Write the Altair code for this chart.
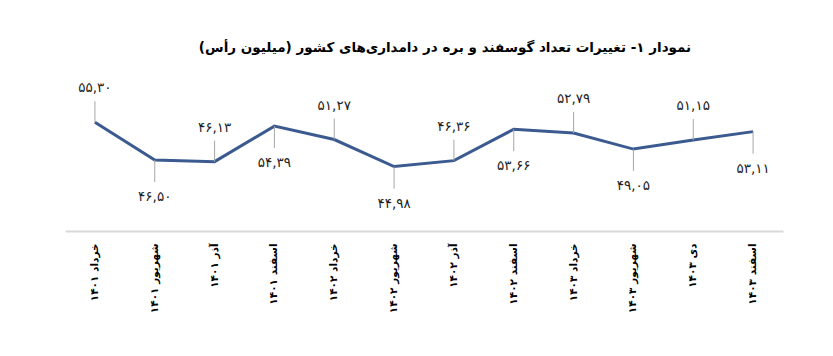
import altair as alt
import pandas as pd

categories = [
    "خرداد ۱۴۰۱", "شهریور ۱۴۰۱", "آذر ۱۴۰۱", "اسفند ۱۴۰۱",
    "خرداد ۱۴۰۲", "شهریور ۱۴۰۲", "آذر ۱۴۰۲", "اسفند ۱۴۰۲",
    "خرداد ۱۴۰۳", "شهریور ۱۴۰۳", "دی ۱۴۰۳", "اسفند ۱۴۰۳",
]
values = [55.30, 46.50, 46.13, 54.39, 51.27, 44.98, 46.36, 53.66, 52.79, 49.05, 51.15, 53.11]
title_text = "نمودار ۱- تغییرات تعداد گوسفند و بره در دامداری\u200cهای کشور (میلیون رأس)"

FA = str.maketrans("0123456789", "۰۱۲۳۴۵۶۷۸۹")


def fa_num(v):
    return ("%.2f" % v).replace(".", ",").translate(FA)


df = pd.DataFrame({
    "cat": categories,
    "value": values,
    "label": [fa_num(v) for v in values],
    "pos": ["above" if i % 2 == 0 else "below" for i in range(len(values))],
})

FONT = "DejaVu Sans"
x_enc = alt.X("cat:N", sort=categories, title=None,
              axis=alt.Axis(labelAngle=-90, labelFont=FONT, labelFontSize=10.5,
                            labelFontWeight="bold", labelColor="#000000",
                            labelPadding=12, ticks=False, domainColor="#D9D9D9",
                            domainWidth=2, grid=False, labelLimit=200))
y_scale = alt.Scale(domain=[30, 60], nice=False, zero=False)
y_enc = alt.Y("value:Q", scale=y_scale, axis=None)

base = alt.Chart(df).encode(x=x_enc)

line = base.mark_line(color="#3B5A8F", strokeWidth=3).encode(y=y_enc)

above = alt.datum.pos == "above"
below = alt.datum.pos == "below"

rule_up = base.transform_filter(above).mark_rule(
    color="#A6A6A6", strokeWidth=1, y2Offset=-21
).encode(y=y_enc, y2="value:Q")
rule_dn = base.transform_filter(below).mark_rule(
    color="#A6A6A6", strokeWidth=1, y2Offset=22
).encode(y=y_enc, y2="value:Q")

text_up = base.transform_filter(above).mark_text(
    dy=-34, baseline="middle", font=FONT, fontSize=13.5, color="#222222"
).encode(y=y_enc, text="label:N")
text_dn = base.transform_filter(below).mark_text(
    dy=37, baseline="middle", font=FONT, fontSize=13.5, color="#222222"
).encode(y=y_enc, text="label:N")

chart = alt.layer(line, rule_up, rule_dn, text_up, text_dn).properties(
    width=718,
    height=129,
    background="white",
    autosize=alt.AutoSizeParams(type="none"),
    padding={"left": 57, "top": 94, "right": 40, "bottom": 100},
    title=alt.TitleParams(
        text="\u200f" + title_text + "\u200f",
        font=FONT, fontSize=13.5, fontWeight="bold", color="#000000",
        anchor="middle", offset=27, dx=21,
    ),
).configure_view(strokeWidth=0, stroke="transparent")

chart.save("out.html", embed_options={"renderer": "svg", "actions": False})
